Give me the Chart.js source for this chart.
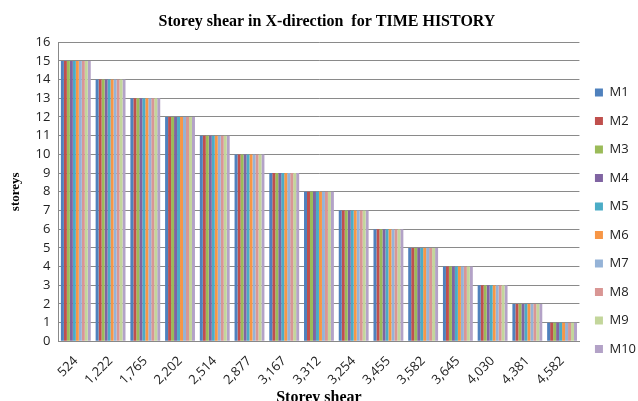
<!DOCTYPE html>
<html>
<head>
<meta charset="utf-8">
<script src="https://cdn.jsdelivr.net/npm/chart.js@4/dist/chart.umd.min.js"></script>
<style>
  html, body { margin: 0; padding: 0; background: #fff; }
  #wrap { width: 638px; height: 401px; }
</style>
</head>
<body>
<div id="wrap"><canvas id="chart"></canvas></div>
<script>
const categories = ["524", "1,222", "1,765", "2,202", "2,514", "2,877", "3,167", "3,312",
  "3,254", "3,455", "3,582", "3,645", "4,030", "4,381", "4,582"]
const seriesNames = ["M1", "M2", "M3", "M4", "M5", "M6", "M7", "M8", "M9", "M10"]
// every model shows the same storey number for each shear value
const storeys = [15, 14, 13, 12, 11, 10, 9, 8, 7, 6, 5, 4, 3, 2, 1]
const colors = ["#4F81BD", "#C0504D", "#9BBB59", "#8064A2", "#4BACC6",
  "#F79646", "#95B3D7", "#D99694", "#C3D69B", "#B3A2C7"]

const datasets = seriesNames.map((name, i) => ({
  label: name,
  data: storeys,
  backgroundColor: colors[i],
  borderWidth: 0,
  barPercentage: 1.0,
  categoryPercentage: 0.86
}))

const serif = "'Liberation Serif', 'Times New Roman', serif"
const sans = "'Open Sans', 'Liberation Sans', sans-serif"

new Chart(document.getElementById("chart"), {
  type: "bar",
  data: { labels: categories, datasets: datasets },
  options: {
    responsive: true,
    maintainAspectRatio: false,
    animation: false,
    layout: { padding: { top: 12, right: -8, left: 8, bottom: -6 } },
    plugins: {
      title: {
        display: true,
        text: "Storey shear in X-direction  for TIME HISTORY",
        color: "#000",
        font: { family: serif, size: 16, weight: "bold" },
        padding: { top: 0, bottom: 11 }
      },
      legend: {
        position: "right",
        align: "center",
        title: { display: true, text: " ", padding: { top: 8, bottom: 0 } },
        labels: {
          boxWidth: 8,
          boxHeight: 8,
          padding: 15.5,
          color: "#222",
          font: { family: sans, size: 13 }
        }
      },
      tooltip: { enabled: false }
    },
    scales: {
      x: {
        grid: { display: false },
        border: { color: "#888" },
        ticks: {
          color: "#222",
          font: { family: sans, size: 13 },
          minRotation: 45,
          maxRotation: 45,
          padding: 4
        },
        title: {
          display: true,
          text: "Storey shear",
          color: "#000",
          font: { family: serif, size: 16, weight: "bold" },
          padding: { top: -4, bottom: 0 }
        }
      },
      y: {
        min: 0,
        max: 16,
        ticks: {
          stepSize: 1,
          color: "#222",
          font: { family: sans, size: 13 },
          padding: 8
        },
        grid: { color: "#8a8a8a", drawTicks: false },
        border: { color: "#888" },
        title: {
          display: true,
          text: "storeys",
          color: "#000",
          font: { family: serif, size: 13, weight: "bold" },
          padding: { top: 0, bottom: 4 }
        }
      }
    }
  }
})
</script>
</body>
</html>
